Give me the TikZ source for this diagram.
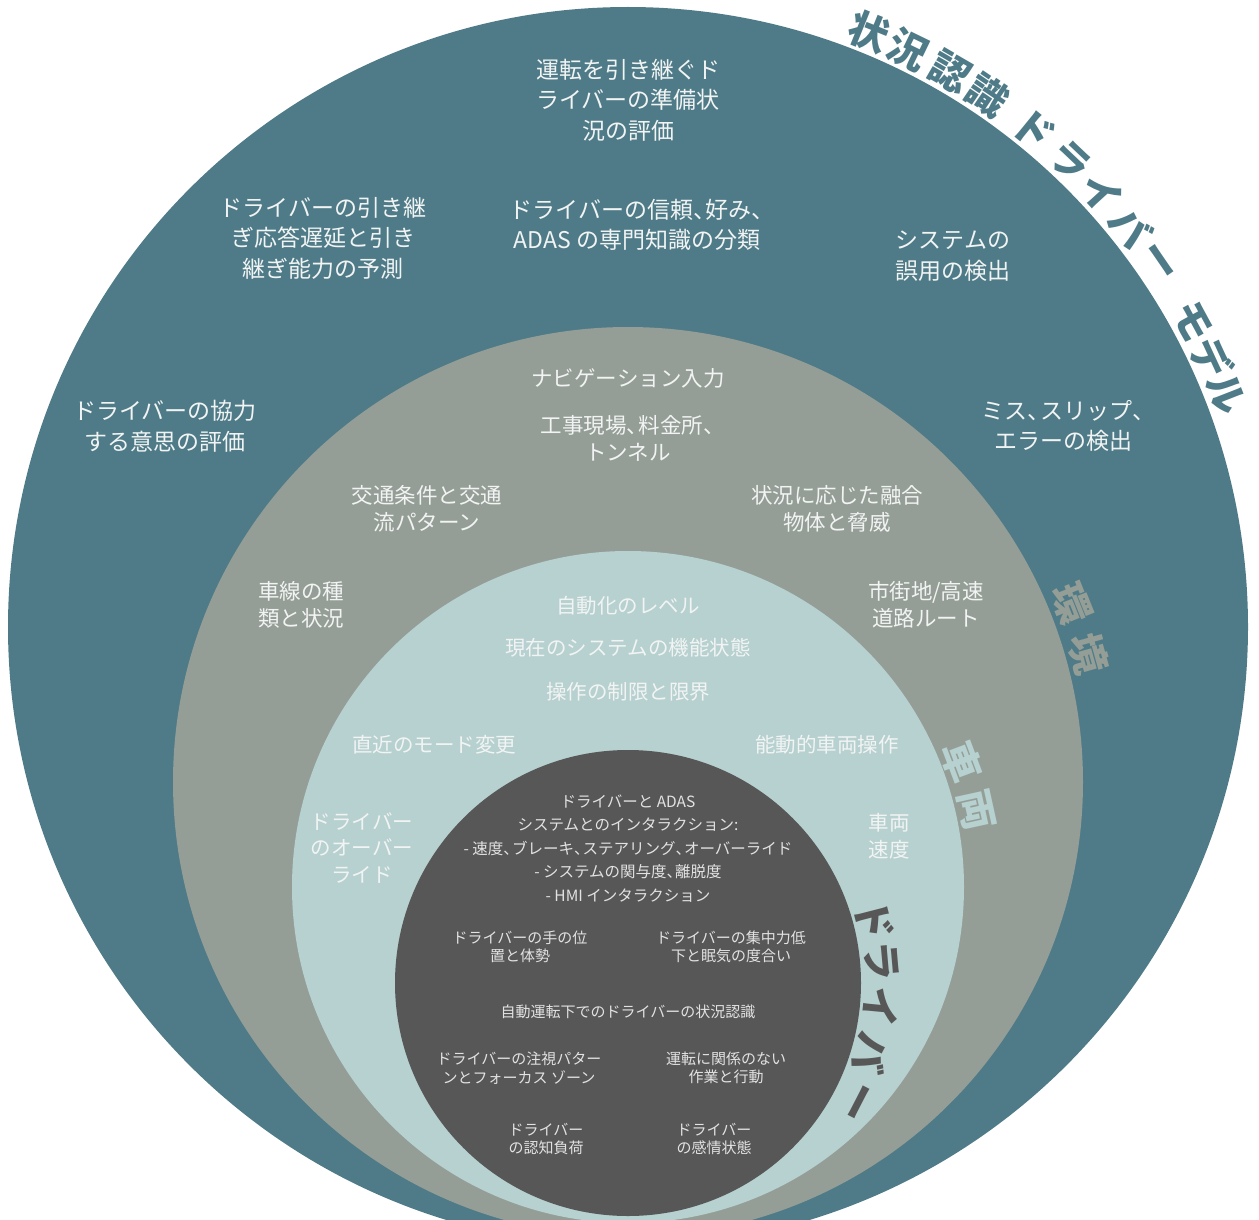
\documentclass[tikz,border=0pt]{standalone}
\usepackage{fontspec}
\setmainfont{Noto Sans CJK JP}
\definecolor{outerc}{HTML}{4E7B87}
\definecolor{midc}{HTML}{949E96}
\definecolor{lightc}{HTML}{B6D1CF}
\definecolor{darkc}{HTML}{575757}
\definecolor{txtw}{HTML}{F2F4F4}
\definecolor{txtin}{HTML}{E2E2E2}
\newcommand\tenc{\makebox[0.55em][l]{、}}
\begin{document}
\begin{tikzpicture}[x=1pt,y=1pt,
  disk/.style={circle,fill=#1,draw=none,inner sep=0pt},
  lblA/.style={text=txtw,align=center,inner sep=0pt,font=\fontsize{23}{30.5}\selectfont},
  lblB/.style={text=txtw,align=center,inner sep=0pt,font=\fontsize{21.5}{27}\selectfont},
  lblC/.style={text=txtw,align=center,inner sep=0pt,font=\fontsize{20.5}{26.5}\selectfont},
  lblD/.style={text=txtin,align=center,inner sep=0pt,font=\fontsize{15.5}{23.5}\selectfont},
  lblE/.style={text=txtin,align=center,inner sep=0pt,font=\fontsize{15}{18.5}\selectfont},
  arcchar/.style={inner sep=0pt,font=\fontsize{#1}{#1}\selectfont\bfseries}]
\useasboundingbox (0,0) rectangle (1259,-1220);
% rings
\node[disk=outerc,minimum size=1240pt] (ring1) at (628,-627) {};
\node[disk=midc,minimum size=910pt] (ring2) at (628,-782) {};
\node[disk=lightc,minimum size=672pt] (ring3) at (628,-887) {};
\node[disk=darkc,minimum size=466pt] (ring4) at (628,-983) {};
% curved titles
\foreach \ch/\a [count=\i] in {状/68.0,況/64.1,認/59.9,識/55.9,ド/50.8,ラ/46.5,イ/42.5,バ/38.5,ー/34.5,モ/28.4,デ/24.8,ル/21.3}
  \node[arcchar=40,text=outerc,rotate=\a-90] (tA\i) at ([shift={(\a:642)}]628,-627) {\ch};
\foreach \ch/\a [count=\i] in {環/21.9,境/15.6}
  \node[arcchar=40,text=midc,rotate=\a-90] (tB\i) at ([shift={(\a:478)}]628,-782) {\ch};
\foreach \ch/\a [count=\i] in {車/20.6,両/12.4}
  \node[arcchar=40,text=lightc,rotate=\a-90] (tC\i) at ([shift={(\a:357)}]628,-887) {\ch};
\foreach \ch/\a [count=\i] in {ド/14.4,ラ/5.0,イ/-5.5,バ/-16.1,ー/-27.3}
  \node[arcchar=40,text=darkc,rotate=\a-90] (tD\i) at ([shift={(\a:254)}]628,-983) {\ch};
% outer ring labels
\node[lblA] (o1) at (628,-100) {運転を引き継ぐド\\ライバーの準備状\\況の評価};
\node[lblA] (o2) at (323,-238) {ドライバーの引き継\\ぎ応答遅延と引き\\継ぎ能力の予測};
\node[lblA] (o3) at (637,-225) {ドライバーの信頼\tenc 好み\tenc\\ADAS の専門知識の分類};
\node[lblA] (o4) at (953,-256) {システムの\\誤用の検出};
\node[lblA] (o5) at (165,-426) {ドライバーの協力\\する意思の評価};
\node[lblA] (o6) at (1063,-426) {ミス\tenc スリップ\tenc\\エラーの検出};
% environment ring labels
\node[lblB] (m1) at (628,-378) {ナビゲーション入力};
\node[lblB] (m2) at (628,-438) {工事現場\tenc 料金所\tenc\\トンネル};
\node[lblB] (m3) at (427,-509) {交通条件と交通\\流パターン};
\node[lblB] (m4) at (837,-509) {状況に応じた融合\\物体と脅威};
\node[lblB] (m5) at (301,-605) {車線の種\\類と状況};
\node[lblB] (m6) at (926,-605) {市街地/高速\\道路ルート};
% vehicle ring labels
\node[lblC] (v1) at (628,-606) {自動化のレベル};
\node[lblC] (v2) at (628,-648) {現在のシステムの機能状態};
\node[lblC] (v3) at (628,-692) {操作の制限と限界};
\node[lblC] (v4) at (434,-745) {直近のモード変更};
\node[lblC] (v5) at (827,-745) {能動的車両操作};
\node[lblC] (v6) at (362,-848) {ドライバー\\のオーバー\\ライド};
\node[lblC] (v7) at (889,-836) {車両\\速度};
% driver core labels
\node[lblD] (d1) at (628,-848.5) {ドライバーと ADAS\\システムとのインタラクション:\\- 速度\tenc ブレーキ\tenc ステアリング\tenc オーバーライド\\- システムの関与度\tenc 離脱度\\- HMI インタラクション};
\node[lblE] (d2) at (520,-947) {ドライバーの手の位\\置と体勢};
\node[lblE] (d3) at (731,-947) {ドライバーの集中力低\\下と眠気の度合い};
\node[lblE] (d4) at (628,-1012) {自動運転下でのドライバーの状況認識};
\node[lblE] (d5) at (519,-1068) {ドライバーの注視パター\\ンとフォーカス ゾーン};
\node[lblE] (d6) at (726,-1068) {運転に関係のない\\作業と行動};
\node[lblE] (d7) at (546,-1139) {ドライバー\\の認知負荷};
\node[lblE] (d8) at (714,-1139) {ドライバー\\の感情状態};
\end{tikzpicture}
\end{document}
